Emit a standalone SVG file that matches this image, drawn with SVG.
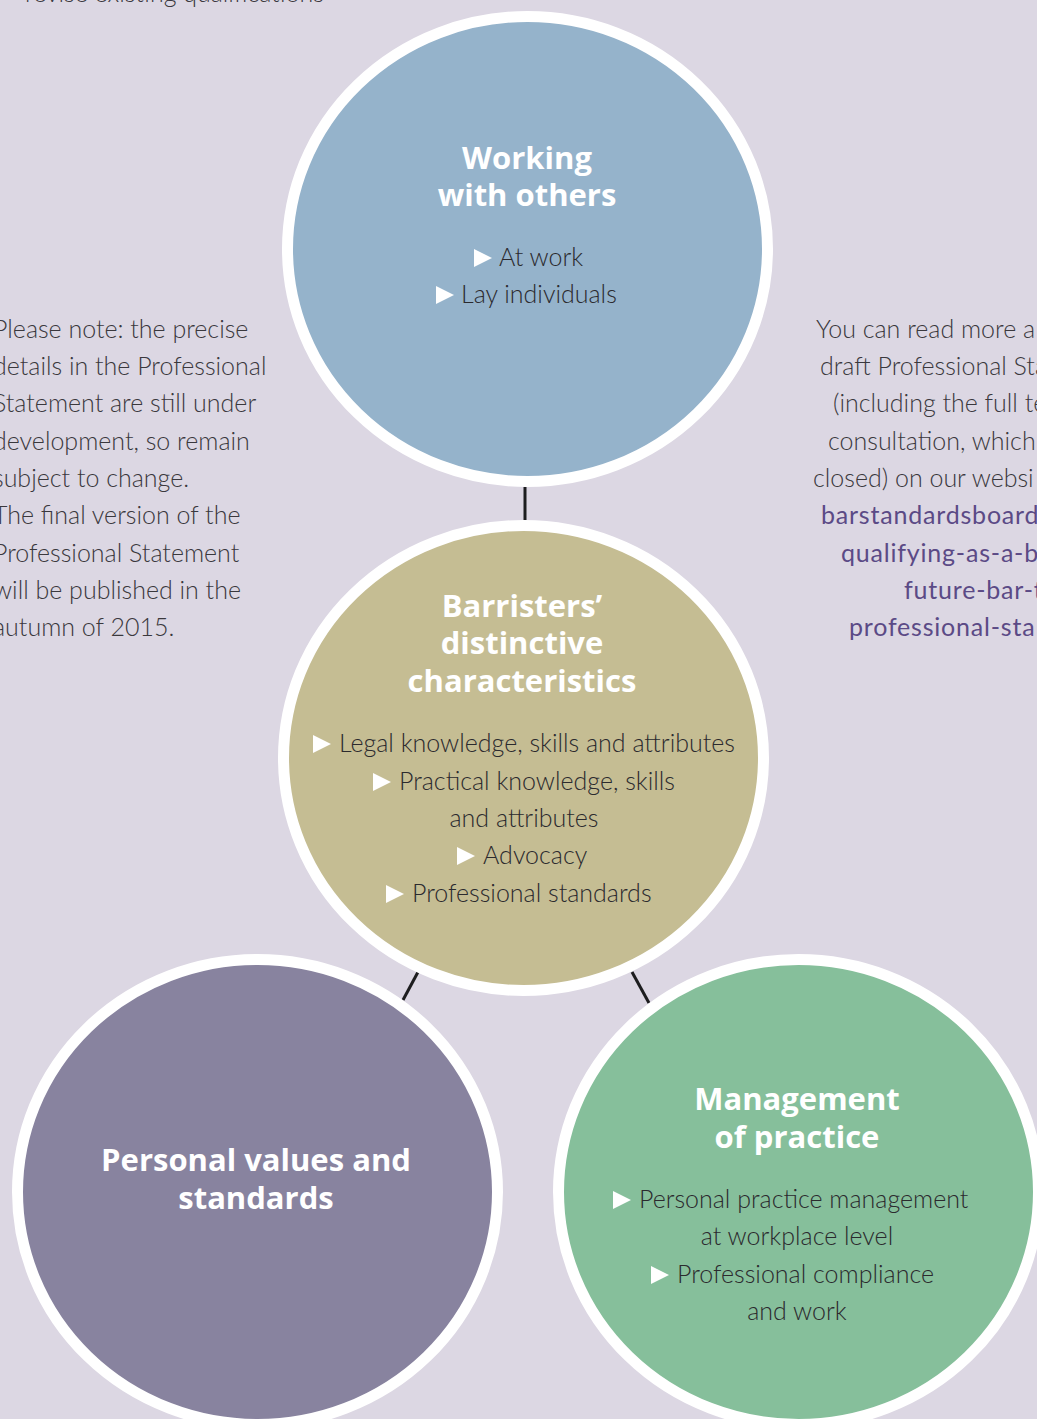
<svg xmlns="http://www.w3.org/2000/svg" width="1037" height="1419" viewBox="0 0 1037 1419">
<defs>
<style>
.bg{fill:#dcd7e3}
.ring{stroke:#ffffff;stroke-width:11}
.title{font-family:"Open Sans",Lato,sans-serif;font-weight:700;font-size:31px;fill:#ffffff;text-anchor:middle}
.body{font-family:Lato,"Open Sans",sans-serif;font-weight:300;font-size:25px;fill:#2b2a2e}
.mid{text-anchor:middle}
.note{font-family:Lato,"Open Sans",sans-serif;font-weight:300;font-size:25px;fill:#3a383d}
.link{font-family:Lato,"Open Sans",sans-serif;font-weight:400;font-size:25px;letter-spacing:0.8px;fill:#5b4a86}
.tri{fill:#ffffff}
.conn{stroke:#1d1d1f;stroke-width:3;fill:none}
</style>
</defs>
<rect class="bg" x="0" y="0" width="1037" height="1419"/>

<g id="side-notes">
<text class="note" x="25" y="2">revise existing qualifications</text>
<text class="note" x="-7" y="338">Please note: the precise</text>
<text class="note" x="-7" y="375">details in the Professional</text>
<text class="note" x="-7" y="412">Statement are still under</text>
<text class="note" x="-7" y="450">development, so remain</text>
<text class="note" x="-7" y="487">subject to change.</text>
<text class="note" x="-7" y="524">The final version of the</text>
<text class="note" x="-7" y="562">Professional Statement</text>
<text class="note" x="-7" y="599">will be published in the</text>
<text class="note" x="-7" y="636">autumn of 2015.</text>
<text class="note" x="816" y="338">You can read more a</text>
<text class="note" x="820" y="375">draft Professional Sta</text>
<text class="note" x="833" y="412">(including the full te</text>
<text class="note" x="828" y="450">consultation, which</text>
<text class="note" x="813" y="487">closed) on our websi</text>
<text class="link" x="821" y="524">barstandardsboard</text>
<text class="link" x="841" y="562">qualifying-as-a-b</text>
<text class="link" x="904" y="599">future-bar-t</text>
<text class="link" x="849" y="636">professional-sta</text>
</g>

<g id="connectors">
<line class="conn" x1="525" y1="487" x2="525" y2="520"/>
<line class="conn" x1="418" y1="972" x2="403" y2="1000"/>
<line class="conn" x1="632" y1="972" x2="649" y2="1003"/>
</g>

<g id="node-working">
<ellipse class="ring" cx="527.5" cy="249" rx="240" ry="232.5" fill="#95b3cb"/>
<text class="title" x="527" y="169">Working</text>
<text class="title" x="527" y="206">with others</text>
<polygon class="tri" points="474,249 492,258 474,267"/>
<text class="body" x="499" y="266">At work</text>
<polygon class="tri" points="436,286 454,295 436,304"/>
<text class="body" x="461" y="303">Lay individuals</text>
</g>

<g id="node-barristers">
<ellipse class="ring" cx="523.5" cy="758" rx="240" ry="232.5" fill="#c5bd93"/>
<text class="title" x="522" y="617">Barristers’</text>
<text class="title" x="522" y="654">distinctive</text>
<text class="title" x="522" y="692">characteristics</text>
<polygon class="tri" points="313,735 331,744 313,753"/>
<text class="body" x="339" y="752">Legal knowledge, skills and attributes</text>
<polygon class="tri" points="373,773 391,782 373,791"/>
<text class="body" x="399" y="790">Practical knowledge, skills</text>
<text class="body mid" x="524" y="827">and attributes</text>
<polygon class="tri" points="457,847 475,856 457,865"/>
<text class="body" x="483" y="864">Advocacy</text>
<polygon class="tri" points="386,885 404,894 386,903"/>
<text class="body" x="412" y="902">Professional standards</text>
</g>

<g id="node-personal">
<ellipse class="ring" cx="257.5" cy="1192" rx="240" ry="232.5" fill="#88839f"/>
<text class="title" x="256" y="1171">Personal values and</text>
<text class="title" x="256" y="1209">standards</text>
</g>

<g id="node-management">
<ellipse class="ring" cx="798.5" cy="1192" rx="240" ry="232.5" fill="#86bf9b"/>
<text class="title" x="797" y="1110">Management</text>
<text class="title" x="797" y="1148">of practice</text>
<polygon class="tri" points="613,1191 631,1200 613,1209"/>
<text class="body" x="639" y="1208">Personal practice management</text>
<text class="body mid" x="797" y="1245">at workplace level</text>
<polygon class="tri" points="651,1266 669,1275 651,1284"/>
<text class="body" x="677" y="1283">Professional compliance</text>
<text class="body mid" x="797" y="1320">and work</text>
</g>
</svg>
